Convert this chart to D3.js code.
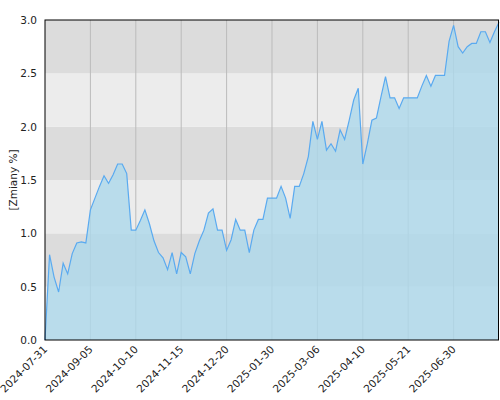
<!DOCTYPE html>
<html>
<head>
<meta charset="UTF-8">
<style>
  body { margin: 0; background: #fff; }
  text { font-family: "DejaVu Sans", sans-serif; font-size: 10.5px; fill: #222; }
</style>
</head>
<body>
<script src="https://d3js.org/d3.v7.min.js"></script>
<script>
// values sampled every ~2.5 trading days, 10 points per grid interval
var values = [0, 0.8, 0.59, 0.45, 0.72, 0.62, 0.81, 0.91, 0.92, 0.91,
  1.22, 1.33, 1.44, 1.54, 1.47, 1.55, 1.65, 1.65, 1.56, 1.03,
  1.03, 1.12, 1.22, 1.09, 0.93, 0.82, 0.77, 0.66, 0.82, 0.62,
  0.82, 0.78, 0.62, 0.81, 0.93, 1.03, 1.19, 1.23, 1.03, 1.03,
  0.84, 0.94, 1.13, 1.03, 1.03, 0.82, 1.03, 1.13, 1.13, 1.33,
  1.33, 1.33, 1.44, 1.33, 1.14, 1.44, 1.44, 1.56, 1.72, 2.05,
  1.88, 2.05, 1.78, 1.84, 1.77, 1.97, 1.88, 2.06, 2.25, 2.36,
  1.65, 1.84, 2.06, 2.08, 2.28, 2.47, 2.27, 2.27, 2.17, 2.27,
  2.27, 2.27, 2.27, 2.38, 2.48, 2.38, 2.48, 2.48, 2.48, 2.8,
  2.95, 2.75, 2.69, 2.75, 2.78, 2.78, 2.89, 2.89, 2.79, 2.89, 2.98];
var tickIndex = [0, 10, 20, 30, 40, 50, 60, 70, 80, 90];
var tickLabels = ["2024-07-31", "2024-09-05", "2024-10-10", "2024-11-15", "2024-12-20",
  "2025-01-30", "2025-03-06", "2025-04-10", "2025-05-21", "2025-06-30"];
var yTicks = [0, 0.5, 1, 1.5, 2, 2.5, 3];

var W = 500, H = 400, m = {l: 45, r: 1, t: 20, b: 60};
var svg = d3.select("body").append("svg").attr("width", W).attr("height", H);
var x = d3.scaleLinear().domain([0, values.length - 1]).range([m.l, W - m.r]);
var y = d3.scaleLinear().domain([0, 3]).range([H - m.b, m.t]);

// bands
svg.selectAll("rect.band").data(d3.range(6)).enter().append("rect")
  .attr("x", m.l).attr("width", W - m.r - m.l)
  .attr("y", function(i) { return y((i + 1) * 0.5); })
  .attr("height", function(i) { return y(i * 0.5) - y((i + 1) * 0.5); })
  .attr("fill", function(i) { return i % 2 === 1 ? "#dcdcdc" : "#ececec"; });

// vertical grid
svg.selectAll("line.g").data(tickIndex.slice(1)).enter().append("line")
  .attr("x1", x).attr("x2", x).attr("y1", m.t).attr("y2", H - m.b)
  .attr("stroke", "#bbb").attr("stroke-width", 1);

var area = d3.area().x(function(d, i) { return x(i); }).y0(y(0)).y1(function(d) { return y(d); });
svg.append("path").datum(values).attr("d", area).attr("fill", "rgba(173,216,235,0.8)");
var line = d3.line().x(function(d, i) { return x(i); }).y(function(d) { return y(d); });
svg.append("path").datum(values).attr("d", line).attr("fill", "none")
  .attr("stroke", "#5aaaf0").attr("stroke-width", 1.2);

svg.append("rect").attr("x", m.l).attr("y", m.t).attr("width", W - m.r - m.l - 0.5)
  .attr("height", H - m.b - m.t).attr("fill", "none").attr("stroke", "#000");

svg.selectAll("text.y").data(yTicks).enter().append("text")
  .attr("x", m.l - 8).attr("y", function(d) { return y(d) + 4; })
  .attr("text-anchor", "end").text(function(d) { return d.toFixed(1); });

svg.selectAll("text.x").data(tickIndex).enter().append("text")
  .attr("text-anchor", "end")
  .attr("transform", function(d) { return "translate(" + (x(d) + 3) + "," + (H - m.b + 10) + ") rotate(-45)"; })
  .text(function(d, i) { return tickLabels[i]; });

svg.append("text").attr("transform", "translate(17," + ((m.t + H - m.b) / 2) + ") rotate(-90)")
  .attr("text-anchor", "middle").text("[Zmiany %]");
</script>
</body>
</html>
